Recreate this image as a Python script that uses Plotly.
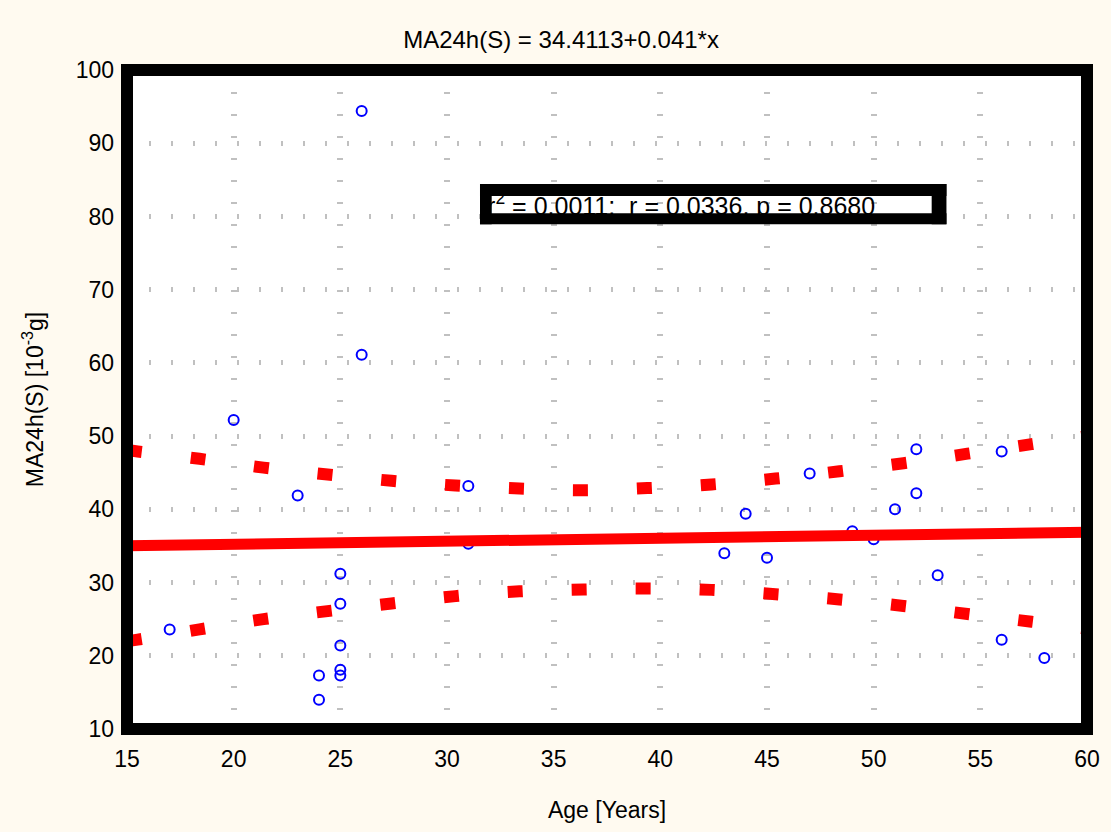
import plotly.graph_objects as go

# Fitted regression reported in the title
intercept = 34.4113
slope = 0.041

# Individual measurements
age = [26, 26, 20, 23, 31, 31, 17, 25, 25, 25, 25, 25, 24, 24,
       43, 44, 45, 47, 49, 50, 51, 52, 52, 53, 56, 56, 58]
ma24h = [94.4, 61.1, 52.2, 41.9, 43.2, 35.3, 23.6, 31.2, 27.1, 21.4, 18.1, 17.3, 17.3, 14.0,
         34.0, 39.4, 33.4, 44.9, 37.0, 35.9, 40.0, 48.2, 42.2, 31.0, 47.9, 22.2, 19.7]

# 95% confidence band of the fit
band_age = [15, 15.5, 18.4, 21.4, 24.4, 27.4, 30.4, 33.4, 36.4, 39.4, 42.4, 45.4, 48.4, 51.4, 54.4, 57.4, 60]
band_upper = [48.1, 47.9, 46.9, 45.7, 44.75, 43.9, 43.25, 42.85, 42.6, 42.9, 43.4, 44.2, 45.2, 46.3, 47.6, 48.9, 50.0]
band_lower = [22.0, 22.2, 23.6, 25.0, 26.1, 27.15, 28.15, 28.8, 29.05, 29.2, 29.0, 28.4, 27.7, 26.8, 25.7, 24.65, 23.7]

r2_value, r_value, p_value = "0.0011", "0.0336", "0.8680"

x_range = [15, 60]
y_range = [10, 100]
x_ticks = [15, 20, 25, 30, 35, 40, 45, 50, 55, 60]
y_ticks = [10, 20, 30, 40, 50, 60, 70, 80, 90, 100]

FONT = "Liberation Sans, Arial, sans-serif"
RED = "#ff0000"
BLUE = "#0000ff"

fig = go.Figure()

fig.add_trace(go.Scatter(
    x=age, y=ma24h, mode="markers",
    marker=dict(symbol="circle-open", size=10, color=BLUE, line=dict(width=2, color=BLUE)),
    showlegend=False, hoverinfo="skip"))

for band in (band_upper, band_lower):
    fig.add_trace(go.Scatter(
        x=band_age, y=band, mode="lines",
        line=dict(color=RED, width=12, dash="15px,49px", shape="spline"),
        showlegend=False, hoverinfo="skip"))

fit_x = list(x_range)
fit_y = [intercept + slope * v for v in fit_x]
fig.add_trace(go.Scatter(
    x=fit_x, y=fit_y, mode="lines",
    line=dict(color=RED, width=11),
    showlegend=False, hoverinfo="skip"))

# statistics text, framed by the black box drawn above it
fig.add_trace(go.Scatter(
    x=[31.88], y=[81.1], mode="text",
    text=[f"r<sup>2</sup> = {r2_value};\u00a0 r = {r_value}, p = {p_value}"],
    textposition="middle right",
    textfont=dict(family=FONT, size=25, color="black"),
    showlegend=False, hoverinfo="skip", cliponaxis=True))

# box geometry in paper units
bx0, bx1, by0, by1 = 0.3677, 0.8536, 0.7659, 0.8270
ix0, ix1, iy0, iy1 = 0.3799, 0.8382, 0.7825, 0.8088

shapes = [
    dict(type="rect", xref="paper", yref="paper", x0=bx0, x1=bx1, y0=by0, y1=by1,
         fillcolor="white", line=dict(width=0), layer="between"),
    dict(type="rect", xref="paper", yref="paper", x0=bx0, x1=bx1, y0=iy1, y1=by1,
         fillcolor="black", line=dict(width=0), layer="above"),
    dict(type="rect", xref="paper", yref="paper", x0=bx0, x1=bx1, y0=by0, y1=iy0,
         fillcolor="black", line=dict(width=0), layer="above"),
    dict(type="rect", xref="paper", yref="paper", x0=bx0, x1=ix0, y0=by0, y1=by1,
         fillcolor="black", line=dict(width=0), layer="above"),
    dict(type="rect", xref="paper", yref="paper", x0=ix1, x1=bx1, y0=by0, y1=by1,
         fillcolor="black", line=dict(width=0), layer="above"),
    # heavy frame around the plotting area
    dict(type="rect", xref="paper", yref="paper", x0=0, x1=1, y0=0, y1=1,
         line=dict(color="black", width=12), fillcolor="rgba(0,0,0,0)", layer="above"),
]

fig.update_layout(
    width=1111, height=832,
    margin=dict(l=127, r=24, t=70, b=103),
    paper_bgcolor="#fffaf0",
    plot_bgcolor="white",
    font=dict(family=FONT, size=23, color="black"),
    title=dict(text=f"MA24h(S) = {intercept}+{slope}*x", x=0.505, xanchor="center",
               y=1 - 40 / 832, yanchor="middle", font=dict(size=24)),
    shapes=shapes,
    showlegend=False,
)

fig.update_xaxes(
    range=x_range, tickvals=x_ticks, ticks="", showline=False, zeroline=False,
    showgrid=True, gridcolor="#c0c0c0", gridwidth=6, griddash="2px,20px",
    tickfont=dict(size=23), ticklabelstandoff=14,
    title=dict(text="Age [Years]", font=dict(size=23), standoff=30),
)
fig.update_yaxes(
    range=y_range, tickvals=y_ticks, ticks="", showline=False, zeroline=False,
    showgrid=True, gridcolor="#c0c0c0", gridwidth=5, griddash="2px,20px",
    tickfont=dict(size=23), ticklabelstandoff=12,
    title=dict(text="MA24h(S) [10<sup>-3</sup>g]", font=dict(size=23), standoff=25),
)

fig.write_html("out.html")
